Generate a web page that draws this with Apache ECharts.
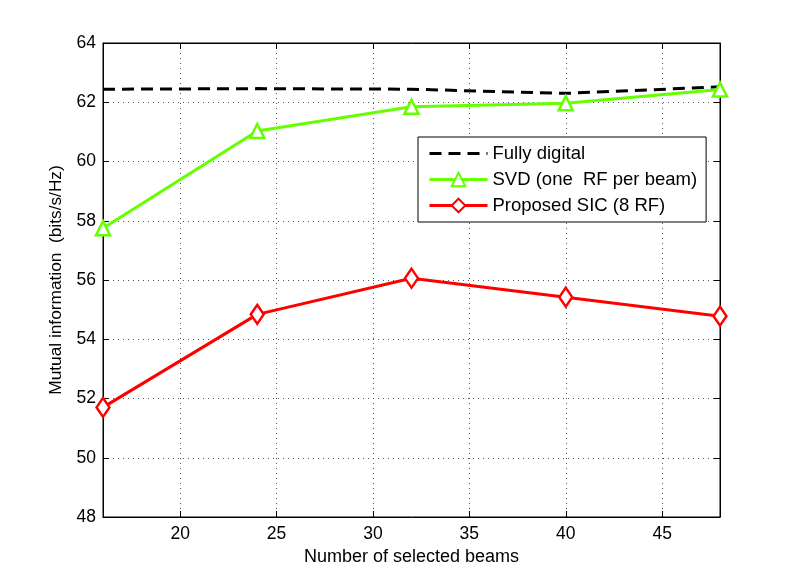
<!DOCTYPE html>
<html>
<head>
<meta charset="utf-8">
<script src="https://cdn.jsdelivr.net/npm/echarts@6/dist/echarts.min.js"></script>
<style>html,body{margin:0;padding:0;background:#fff}#main{width:789px;height:582px}</style>
</head>
<body>
<div id="main"></div>
<script>
// 波束数
var beams = [16, 24, 32, 40, 48];
var fullyDigital = [62.44, 62.46, 62.44, 62.30, 62.52];
var svdOneRf = [57.75, 61.03, 61.85, 61.97, 62.43];
var proposedSic = [51.70, 54.84, 56.06, 55.42, 54.78];
var xTicks = [20, 25, 30, 35, 40, 45];
var seriesNames = ['Fully digital', 'SVD (one  RF per beam)', 'Proposed SIC (8 RF)'];

function pairs(ys) {
	return beams.map(function (b, i) { return [b, ys[i]]; });
}

var chart = echarts.init(document.getElementById('main'));
var font = 'Liberation Sans';
var gridLine = { show: true, lineStyle: { color: '#555', type: [1, 4], width: 1 } };

option = {
	animation: false,
	textStyle: { fontFamily: font },
	grid: { left: 103, right: 69, top: 43, bottom: 65, show: true, borderColor: '#000', borderWidth: 1 },
	legend: {
		orient: 'vertical',
		left: 418, top: 137,
		padding: [7, 9, 7, 10],
		itemGap: 7,
		itemWidth: 58, itemHeight: 17,
		backgroundColor: '#fff',
		borderColor: '#000', borderWidth: 1,
		lineStyle: { width: 'inherit' },
		textStyle: { fontSize: 18.5, color: '#000', fontFamily: font },
		data: [
			{ name: seriesNames[0], itemStyle: { opacity: 0 } },
			seriesNames[1],
			seriesNames[2]
		]
	},
	xAxis: [{
		type: 'value', min: 16, max: 48,
		name: 'Number of selected beams', nameLocation: 'middle', nameGap: 25,
		nameTextStyle: { fontSize: 18, color: '#000' },
		axisLine: { lineStyle: { color: '#000' } },
		axisTick: { inside: true, length: 6, customValues: xTicks, lineStyle: { color: '#000' } },
		axisLabel: { customValues: xTicks, fontSize: 17.5, color: '#000', margin: 8 },
		splitLine: gridLine
	}, {
		type: 'value', min: 16, max: 48, position: 'top',
		axisLine: { lineStyle: { color: '#000' } },
		axisTick: { inside: true, length: 6, customValues: xTicks, lineStyle: { color: '#000' } },
		axisLabel: { show: false }, splitLine: { show: false }
	}],
	yAxis: [{
		type: 'value', min: 48, max: 64, interval: 2,
		name: 'Mutual information  (bits/s/Hz)', nameLocation: 'middle', nameGap: 38,
		nameTextStyle: { fontSize: 17.3, color: '#000' },
		axisLine: { show: true, lineStyle: { color: '#000' } },
		axisTick: { show: true, inside: true, length: 6, lineStyle: { color: '#000' } },
		axisLabel: { fontSize: 17.5, color: '#000', margin: 7 },
		splitLine: gridLine
	}, {
		type: 'value', min: 48, max: 64, interval: 2, position: 'right',
		axisLine: { show: true, lineStyle: { color: '#000' } },
		axisTick: { show: true, inside: true, length: 6, lineStyle: { color: '#000' } },
		axisLabel: { show: false }, splitLine: { show: false }
	}],
	series: [{
		name: seriesNames[0], type: 'line', data: pairs(fullyDigital),
		symbol: 'none', color: '#000',
		lineStyle: { color: '#000', width: 3, type: [12, 7] }
	}, {
		name: seriesNames[1], type: 'line', data: pairs(svdOneRf),
		symbol: 'triangle', symbolSize: 14, color: '#66ff00',
		itemStyle: { color: '#fff', borderColor: '#66ff00', borderWidth: 2.5 },
		lineStyle: { color: '#66ff00', width: 3 }
	}, {
		name: seriesNames[2], type: 'line', data: pairs(proposedSic),
		symbol: 'diamond', symbolSize: [13, 19], color: '#ff0000',
		itemStyle: { color: '#fff', borderColor: '#ff0000', borderWidth: 2.5 },
		lineStyle: { color: '#ff0000', width: 3 }
	}]
};
// 为echarts对象加载数据
chart.setOption(option);
</script>
</body>
</html>
